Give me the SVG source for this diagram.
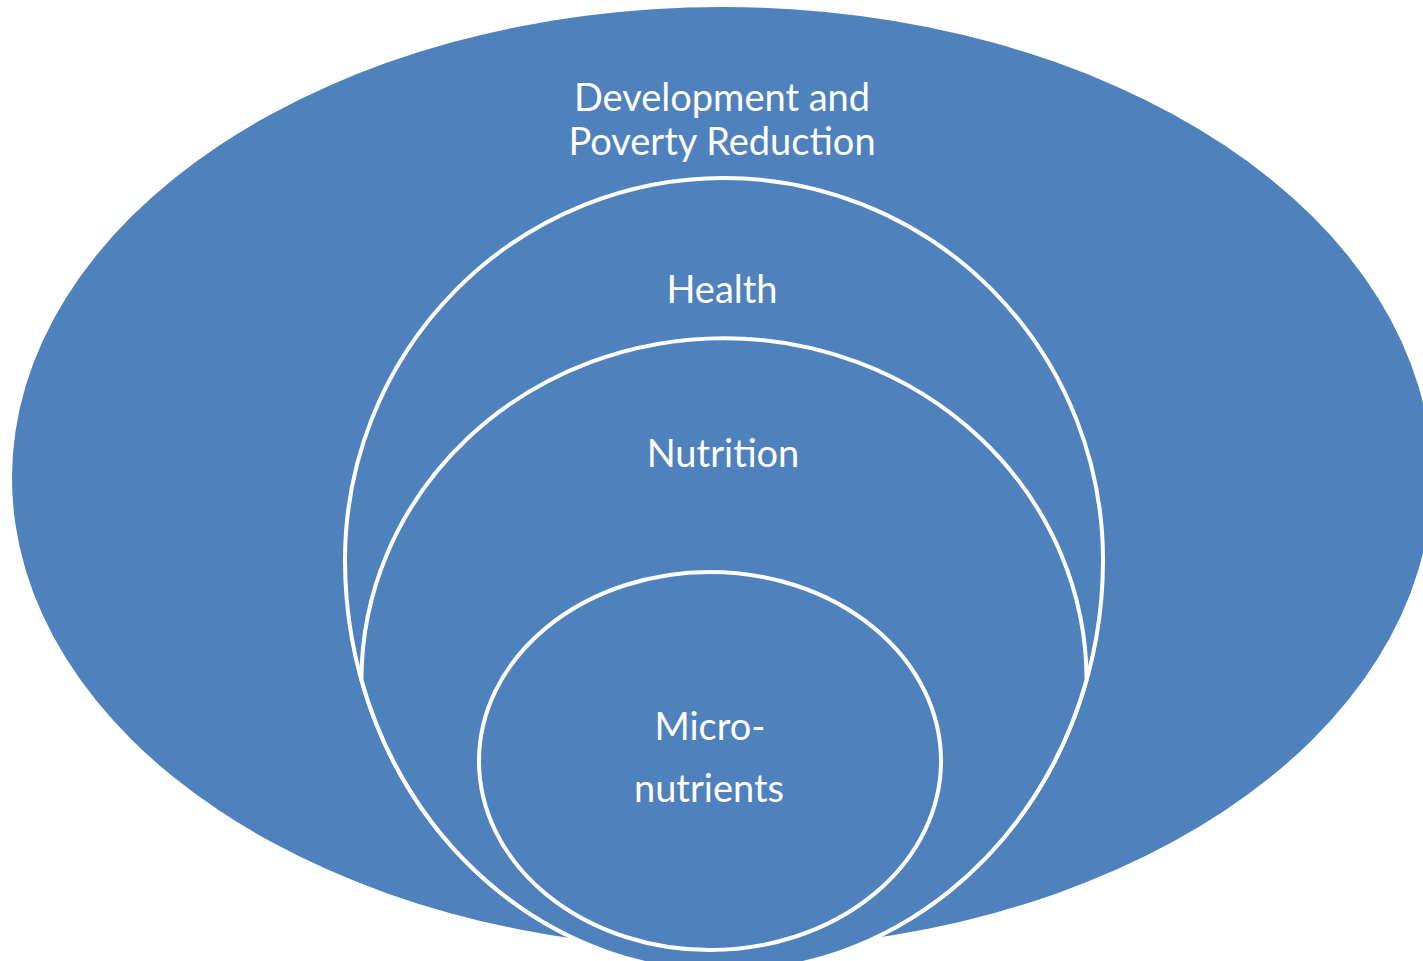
<svg xmlns="http://www.w3.org/2000/svg" width="1423" height="961" viewBox="0 0 1423 961">
  <style>
    .shape { fill: #4f81bd; stroke: #ffffff; stroke-width: 4; }
    .outer { fill: #4f81bd; stroke: none; }
    .label { font-family: Lato, "Open Sans", "Liberation Sans", sans-serif; font-size: 38px; fill: #ffffff; text-anchor: middle; }
  </style>
  <rect x="0" y="0" width="1423" height="961" fill="#ffffff"/>
  <g id="development">
    <ellipse class="outer" cx="722" cy="478" rx="710" ry="471"/>
    <text class="label" x="722" y="111">Development and</text>
    <text class="label" x="722" y="155">Poverty Reduction</text>
  </g>
  <g id="health">
    <path class="shape" d="M 345 560 A 379 382 0 0 1 1103 560 A 379 412 0 0 1 345 560 Z"/>
    <text class="label" x="722" y="303">Health</text>
  </g>
  <g id="nutrition">
    <path class="shape" d="M 361.43 680 A 362.57 342 0 0 1 1086.57 680 A 379 412 0 0 1 361.43 680 Z"/>
    <text class="label" x="723" y="467">Nutrition</text>
  </g>
  <g id="micronutrients">
    <ellipse class="shape" cx="710" cy="761" rx="231" ry="189"/>
    <text class="label" x="710" y="740">Micro-</text>
    <text class="label" x="709" y="802">nutrients</text>
  </g>
</svg>
